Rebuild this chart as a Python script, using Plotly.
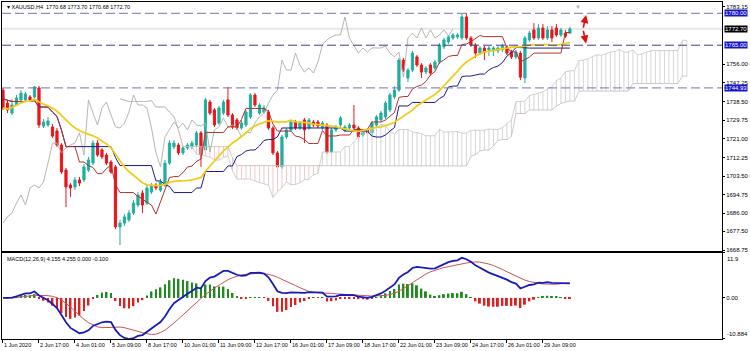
import numpy as np
import pandas as pd
import plotly.graph_objects as go

# ---------------- data (XAUUSD H4) ----------------
opens = [1743.9, 1737.8, 1733.1, 1736.9, 1739.3, 1739.3, 1740.7, 1740.7, 1744.9, 1727.0,
         1727.5, 1726.6, 1724.7, 1718.1, 1706.3, 1699.3, 1698.4, 1701.7, 1701.7, 1706.3,
         1709.6, 1719.0, 1715.8, 1713.4, 1710.1, 1707.8, 1679.6, 1681.4, 1682.9, 1686.1,
         1689.9, 1695.5, 1690.8, 1696.0, 1699.3, 1696.9, 1699.3, 1709.6, 1717.2, 1718.1,
         1714.4, 1716.7, 1717.2, 1718.1, 1723.8, 1715.8, 1738.3, 1734.6, 1728.4, 1733.1,
         1739.3, 1732.2, 1729.9, 1726.1, 1727.5, 1731.3, 1741.6, 1733.1, 1733.6, 1733.6,
         1726.1, 1714.4, 1707.8, 1721.9, 1725.2, 1728.9, 1726.1, 1729.9, 1726.1, 1728.9,
         1728.9, 1726.1, 1727.5, 1714.8, 1725.2, 1727.5, 1725.2, 1726.1, 1727.5, 1726.1,
         1722.8, 1725.2, 1723.8, 1727.5, 1729.9, 1731.3, 1734.6, 1740.7, 1743.9, 1758.0,
         1749.6, 1753.3, 1759.5, 1755.7, 1752.4, 1755.7, 1754.3, 1757.1, 1764.2, 1766.5,
         1768.4, 1768.9, 1768.4, 1778.3, 1768.4, 1765.1, 1761.3, 1763.7, 1762.8, 1762.3,
         1762.3, 1762.8, 1764.2, 1761.8, 1759.5, 1761.3, 1749.6, 1767.5, 1772.2, 1768.4,
         1773.1, 1768.4, 1772.2, 1773.1, 1769.8, 1770.7, 1770.68]
highs = [1744.9, 1739.3, 1739.7, 1741.6, 1743.9, 1743.0, 1741.6, 1745.8, 1745.8, 1730.3,
         1731.3, 1728.0, 1726.1, 1719.0, 1707.3, 1700.2, 1703.1, 1703.1, 1709.2, 1712.5,
         1720.4, 1720.4, 1716.7, 1714.4, 1711.1, 1708.7, 1682.9, 1685.7, 1687.6, 1692.3,
         1696.0, 1696.9, 1699.3, 1700.2, 1700.2, 1702.1, 1711.1, 1720.4, 1720.4, 1719.0,
         1717.6, 1719.0, 1720.0, 1724.7, 1724.7, 1740.2, 1739.3, 1735.5, 1736.4, 1739.3,
         1745.4, 1733.1, 1730.8, 1729.9, 1734.6, 1742.5, 1742.5, 1737.8, 1736.9, 1734.6,
         1727.0, 1715.3, 1722.8, 1726.1, 1729.9, 1729.9, 1729.4, 1730.8, 1730.8, 1729.9,
         1729.9, 1729.4, 1728.4, 1726.1, 1727.5, 1731.7, 1727.5, 1728.4, 1736.9, 1727.0,
         1725.2, 1726.1, 1729.4, 1732.2, 1734.1, 1738.8, 1742.5, 1745.8, 1759.0, 1759.0,
         1754.3, 1762.3, 1760.4, 1756.6, 1755.2, 1756.6, 1758.0, 1766.0, 1768.4, 1769.8,
         1770.7, 1770.7, 1779.7, 1780.1, 1769.3, 1766.0, 1764.6, 1764.6, 1764.6, 1764.6,
         1764.6, 1765.6, 1765.1, 1762.8, 1762.8, 1762.3, 1769.3, 1771.7, 1775.4, 1775.0,
         1775.0, 1774.0, 1774.0, 1775.0, 1773.1, 1772.2, 1773.70]
lows = [1734.6, 1733.1, 1732.2, 1736.4, 1738.8, 1738.8, 1738.3, 1739.7, 1726.1, 1726.1,
        1726.6, 1721.4, 1717.2, 1704.5, 1688.9, 1693.7, 1696.9, 1698.8, 1700.7, 1705.4,
        1708.7, 1712.5, 1711.5, 1708.7, 1704.5, 1678.6, 1671.1, 1680.0, 1681.9, 1685.2,
        1688.9, 1686.1, 1689.9, 1695.1, 1696.9, 1696.0, 1698.4, 1708.7, 1716.2, 1713.4,
        1713.4, 1715.8, 1716.2, 1717.2, 1707.8, 1714.8, 1732.2, 1726.6, 1727.5, 1732.2,
        1731.3, 1725.6, 1725.2, 1725.2, 1726.6, 1730.3, 1736.0, 1732.2, 1732.7, 1725.2,
        1713.4, 1706.8, 1706.8, 1720.9, 1724.2, 1725.2, 1725.2, 1719.0, 1725.2, 1726.6,
        1726.1, 1725.2, 1713.9, 1713.9, 1724.2, 1726.6, 1724.2, 1725.2, 1725.2, 1720.9,
        1721.9, 1722.8, 1722.8, 1726.6, 1728.9, 1730.3, 1733.6, 1739.7, 1743.0, 1752.4,
        1747.7, 1752.4, 1754.8, 1749.6, 1751.4, 1751.0, 1753.3, 1756.2, 1763.2, 1765.6,
        1767.5, 1767.9, 1767.5, 1767.5, 1764.2, 1759.0, 1760.4, 1758.0, 1759.9, 1759.9,
        1761.3, 1761.8, 1760.4, 1758.5, 1758.5, 1748.6, 1747.2, 1766.5, 1767.5, 1767.5,
        1767.5, 1767.5, 1766.5, 1768.9, 1768.9, 1768.4, 1770.68]
closes = [1735.5, 1734.6, 1736.9, 1740.2, 1742.5, 1742.1, 1739.3, 1745.4, 1727.5, 1728.9,
          1729.4, 1722.3, 1718.1, 1705.4, 1698.4, 1697.9, 1701.7, 1700.2, 1707.8, 1711.1,
          1719.0, 1713.4, 1712.5, 1709.6, 1705.4, 1679.6, 1681.4, 1684.3, 1686.1, 1690.8,
          1694.6, 1689.9, 1697.9, 1699.3, 1697.9, 1700.7, 1709.6, 1719.0, 1719.0, 1714.4,
          1716.7, 1718.1, 1719.0, 1723.8, 1713.4, 1739.3, 1733.1, 1727.5, 1735.5, 1738.3,
          1732.2, 1726.6, 1726.1, 1728.4, 1733.6, 1741.6, 1736.9, 1736.9, 1735.5, 1726.1,
          1714.4, 1707.8, 1721.9, 1725.2, 1728.9, 1726.1, 1728.4, 1725.2, 1729.9, 1727.5,
          1727.0, 1728.4, 1714.8, 1725.2, 1726.6, 1730.8, 1726.6, 1727.5, 1726.1, 1721.9,
          1724.2, 1723.8, 1728.4, 1731.3, 1733.1, 1737.8, 1741.6, 1743.9, 1758.0, 1753.3,
          1753.3, 1761.3, 1755.7, 1752.4, 1754.3, 1751.9, 1757.1, 1765.1, 1767.5, 1768.9,
          1769.8, 1769.8, 1778.3, 1768.4, 1765.1, 1761.3, 1763.7, 1761.8, 1763.7, 1763.7,
          1763.7, 1764.6, 1761.3, 1759.5, 1761.8, 1750.0, 1768.4, 1770.7, 1768.4, 1773.1,
          1768.4, 1772.2, 1768.4, 1769.8, 1772.2, 1769.3, 1772.70]

time_tick_bars = [0, 8, 16, 24, 32, 40, 48, 56, 64, 72, 80, 88, 96, 104, 112, 120]
time_tick_labels = ["1 Jun 2020", "2 Jun 17:00", "4 Jun 01:00", "5 Jun 09:00", "8 Jun 17:00",
                    "10 Jun 01:00", "11 Jun 09:00", "12 Jun 17:00", "16 Jun 01:00", "17 Jun 09:00",
                    "18 Jun 17:00", "22 Jun 01:00", "23 Jun 09:00", "24 Jun 17:00", "26 Jun 01:00",
                    "29 Jun 09:00"]
price_ticks = [1783.15, 1756.00, 1747.25, 1738.50, 1729.75, 1721.00, 1712.25,
               1703.50, 1694.75, 1686.00, 1677.50, 1668.75]
price_tick_labels = ["1783.15", "1756.00", "1747.25", "1738.50", "1729.75", "1721.00", "1712.25",
                     "1703.50", "1694.75", "1686.00", "1677.50", "1668.75"]
level_lines = [1780.00, 1765.00, 1744.93]
bid_price = 1772.70
macd_top, macd_zero, macd_bottom = 11.9, 0.0, -10.884
macd_tick_labels = ["11.9", "0.00", "-10.884"]
header_text = "XAUUSD,H4  1770.68 1773.70 1770.68 1772.70"
macd_text = "MACD(12,26,9) 4.155 4.255 0.000 -0.100"

# ---------------- indicators ----------------
df = pd.DataFrame(dict(o=opens, h=highs, l=lows, c=closes))
n = len(df)
idx = np.arange(n)

def mid(p):
    return (df.h.rolling(p, min_periods=1).max() + df.l.rolling(p, min_periods=1).min()) / 2

tenkan = mid(9)
kijun = mid(26)
span_a = (tenkan + kijun) / 2
span_b = mid(52)
shift = 26
cloud_x = idx + shift
ma = df.c.rolling(20, min_periods=1).mean()
ema12 = df.c.ewm(span=12, adjust=False).mean()
ema26 = df.c.ewm(span=26, adjust=False).mean()
macd = ema12 - ema26
signal = macd.rolling(9, min_periods=1).mean()
hist = macd - signal

# ---------------- figure ----------------
fig = go.Figure()

# cloud hatching
px_, py_, gx_, gy_ = [], [], [], []
for xi, a, b in zip(cloud_x, span_a, span_b):
    if b > a:
        px_ += [xi, xi, None]; py_ += [a, b, None]
    else:
        gx_ += [xi, xi, None]; gy_ += [a, b, None]
fig.add_trace(go.Scatter(x=px_, y=py_, mode="lines", line=dict(color="#efcaca", width=1),
                         hoverinfo="skip", xaxis="x", yaxis="y"))
fig.add_trace(go.Scatter(x=gx_, y=gy_, mode="lines", line=dict(color="#d6d6d6", width=1),
                         hoverinfo="skip", xaxis="x", yaxis="y"))
fig.add_trace(go.Scatter(x=cloud_x, y=span_a, mode="lines", line=dict(color="#c4c4c4", width=0.8),
                         xaxis="x", yaxis="y"))
fig.add_trace(go.Scatter(x=cloud_x, y=span_b, mode="lines", line=dict(color="#c9b8b8", width=0.8),
                         xaxis="x", yaxis="y"))
# chikou span
fig.add_trace(go.Scatter(x=idx[:n - shift], y=df.c.values[shift:], mode="lines",
                         line=dict(color="#a8b0a8", width=0.9), xaxis="x", yaxis="y"))
# kijun, tenkan, MA
fig.add_trace(go.Scatter(x=idx, y=kijun, mode="lines", line=dict(color="#1c1c8a", width=1),
                         xaxis="x", yaxis="y"))
fig.add_trace(go.Scatter(x=idx, y=tenkan, mode="lines", line=dict(color="#b2322c", width=1),
                         xaxis="x", yaxis="y"))
fig.add_trace(go.Scatter(x=idx, y=ma, mode="lines", line=dict(color="#f2cc1c", width=1.8),
                         xaxis="x", yaxis="y"))
# candles
fig.add_trace(go.Candlestick(
    x=idx, open=df.o, high=df.h, low=df.l, close=df.c, whiskerwidth=0,
    increasing=dict(line=dict(color="#22ae9f", width=1), fillcolor="#22ae9f"),
    decreasing=dict(line=dict(color="#e8161c", width=1), fillcolor="#e8161c"),
    xaxis="x", yaxis="y"))

# MACD pane
fig.add_trace(go.Bar(x=idx, y=hist, width=0.42,
                     marker=dict(color=["#1f8a1f" if v >= 0 else "#e01e1e" for v in hist], line_width=0),
                     xaxis="x2", yaxis="y2"))
fig.add_trace(go.Scatter(x=idx, y=signal, mode="lines", line=dict(color="#c85555", width=1),
                         xaxis="x2", yaxis="y2"))
fig.add_trace(go.Scatter(x=idx, y=macd, mode="lines", line=dict(color="#1a1ab8", width=1.8),
                         xaxis="x2", yaxis="y2"))

xr = [-0.22, 159.8]
fnt = "Liberation Sans, Arial, sans-serif"
fig.update_layout(
    width=750, height=351, template="none", showlegend=False,
    margin=dict(l=2, r=28, t=2, b=12),
    paper_bgcolor="white", plot_bgcolor="white",
    font=dict(family=fnt, size=6, color="black"),
    xaxis=dict(domain=[0, 1], range=xr, anchor="y", showticklabels=False, showgrid=False,
               zeroline=False, showline=True, mirror=True, linecolor="black", linewidth=1,
               rangeslider=dict(visible=False), ticks=""),
    yaxis=dict(domain=[0.2611, 1], range=[1668.28, 1785.31], side="right", anchor="x",
               tickvals=price_ticks, ticktext=price_tick_labels, ticks="outside", ticklen=2,
               tickcolor="black", showgrid=False, zeroline=False, showline=True, mirror=True,
               linecolor="black", linewidth=1, tickfont=dict(size=6)),
    xaxis2=dict(domain=[0, 1], range=xr, anchor="y2", matches="x", tickvals=time_tick_bars,
                ticktext=time_tick_labels, ticklabelposition="outside right", ticks="outside",
                tickangle=0, ticklen=3, tickcolor="black", showgrid=False, zeroline=False,
                showline=True, mirror=True, linecolor="black", linewidth=1,
                tickfont=dict(size=5.5)),
    yaxis2=dict(domain=[0, 0.2552], range=[macd_bottom, macd_top], side="right", anchor="x2",
                tickvals=[macd_top, macd_zero, macd_bottom], ticktext=["", macd_tick_labels[1], ""],
                ticks="outside", ticklen=2, tickcolor="black", showgrid=False, zeroline=False,
                showline=True, mirror=True, linecolor="black", linewidth=1, tickfont=dict(size=6)),
)

shapes = [dict(type="line", xref="paper", x0=0, x1=1, yref="y", y0=bid_price, y1=bid_price,
               line=dict(color="#e6e6e6", width=2), layer="below")]
for lv in level_lines:
    col = "#3f3f90" if lv == 1765.00 else "#7474b2"
    shapes.append(dict(type="line", xref="paper", x0=0, x1=1, yref="y", y0=lv, y1=lv,
                       line=dict(color=col, width=1, dash="9px,4px")))
fig.update_layout(shapes=shapes)

ann = [
    dict(xref="paper", yref="paper", x=0.004, y=0.999, xanchor="left", yanchor="top",
         text="▾ " + header_text, showarrow=False, font=dict(size=5.5, color="black")),
    dict(xref="paper", yref="paper", x=0.004, y=0.2535, xanchor="left", yanchor="top",
         text=macd_text, showarrow=False, font=dict(size=5.5, color="black")),
    dict(xref="x", yref="paper", x=127.8, y=1.0, xanchor="center", yanchor="top",
         text="▼", showarrow=False, font=dict(size=6, color="#b0b0b0")),
    dict(xref="paper", yref="y2", x=1, y=macd_top, xanchor="left", yanchor="top", xshift=3,
         yshift=-1, text=macd_tick_labels[0], showarrow=False, font=dict(size=6, color="black")),
    dict(xref="paper", yref="y2", x=1, y=macd_bottom, xanchor="left", yanchor="bottom", xshift=3,
         text=macd_tick_labels[2], showarrow=False, font=dict(size=6, color="black")),
]
for lv in level_lines:
    ann.append(dict(xref="paper", yref="y", x=1, y=lv, xanchor="left", yanchor="middle", xshift=2,
                    text=f"{lv:.2f}", showarrow=False, bgcolor="#1414c8",
                    font=dict(size=6, color="white"), borderpad=0))
ann.append(dict(xref="paper", yref="y", x=1, y=bid_price, xanchor="left", yanchor="middle", xshift=2,
                text=f"{bid_price:.2f}", showarrow=False, bgcolor="black",
                font=dict(size=6, color="white"), borderpad=0))
# red double arrow between the 1780 and 1765 levels
mid_level = (level_lines[0] + level_lines[1]) / 2
for tgt in level_lines[:2]:
    ann.append(dict(xref="x", yref="y", axref="x", ayref="y", x=129.6,
                    y=tgt + (-0.8 if tgt > mid_level else 0.8),
                    ax=128.9, ay=mid_level, showarrow=True, arrowhead=2, arrowsize=1,
                    arrowwidth=1.6, arrowcolor="#e01010", text=""))
fig.update_layout(annotations=ann)

fig.write_html("out.html")
